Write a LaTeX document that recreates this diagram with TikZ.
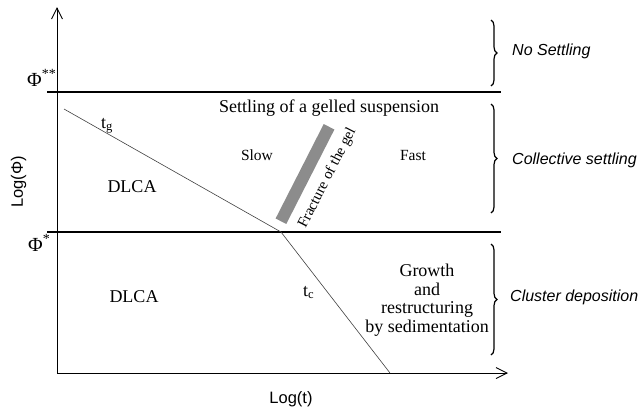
\documentclass[tikz,border=0pt]{standalone}
\usepackage{fontspec}
\setmainfont{Liberation Serif}
\setsansfont{Liberation Sans}
\usetikzlibrary{arrows.meta,decorations.pathreplacing}
\begin{document}
\begin{tikzpicture}[x=1pt,y=-1pt,
  axis/.style={line width=0.9pt,-{Straight Barb[length=11pt,width=11pt,line width=0.9pt]}},
  level/.style={line width=1.7pt},
  curve/.style={line width=0.6pt,black!75},
  big/.style={font=\fontsize{18}{20}\selectfont,inner sep=0pt},
  phi/.style={font=\fontsize{20}{22}\selectfont,inner sep=0pt,anchor=base west},
  mid/.style={font=\fontsize{15.5}{17}\selectfont,inner sep=0pt},
  axlabel/.style={font=\sffamily\fontsize{16.5}{18}\selectfont,inner sep=0pt},
  side/.style={font=\sffamily\itshape\fontsize{16}{18}\selectfont,anchor=base west,inner sep=0pt},
  bracket/.style={decorate,decoration={brace,amplitude=6pt},line width=1.2pt},
  fracbar/.style={fill=black!45,draw=none,minimum width=106pt,minimum height=12pt,inner sep=0pt},
]
\useasboundingbox (0,0) rectangle (642,408);

% axes
\coordinate (O) at (57,373);
\coordinate (ytip) at (57,7);
\coordinate (xtip) at (508,373);
\draw[axis] (O) -- (ytip);
\draw[axis] (O) -- (xtip);

% critical volume fractions
\coordinate (pssL) at (47,92);
\coordinate (pssR) at (501,92);
\coordinate (psL) at (47,232);
\coordinate (psR) at (501,232);
\draw[level] (pssL) -- (pssR);
\draw[level] (psL) -- (psR);
\node[phi] (phiss) at (27,86) {Φ\textsuperscript{**}};
\node[phi] (phis) at (28,251) {Φ\textsuperscript{*}};

% gelation and cluster times
\coordinate (tgstart) at (64,109);
\coordinate (knee) at (281,232);
\coordinate (tcend) at (390,373);
\draw[curve] (tgstart) -- (knee) -- (tcend);
\node[big,anchor=base west] (tg) at (101,128) {t\textsubscript{g}};
\node[big,anchor=base west] (tc) at (303,296) {t\textsubscript{c}};

% fracture of the gel
\node[fracbar,rotate=63] (bar) at (305,174) {};
\node[mid,font=\fontsize{15}{17}\selectfont,rotate=63,anchor=center] (frac) at (327.5,178) {Fracture of the gel};

% region labels
\node[big,anchor=base] (settle) at (329,112) {Settling of a gelled suspension};
\node[mid,anchor=base] (slow) at (257,160) {Slow};
\node[mid,anchor=base] (fast) at (413,160) {Fast};
\node[big,anchor=base] (dlcaA) at (132,192) {DLCA};
\node[big,anchor=base] (dlcaB) at (134,302) {DLCA};
\node[big,anchor=north,align=center,font=\fontsize{18}{18.5}\selectfont] (growth) at (427,264)
  {Growth\\and\\restructuring\\by sedimentation};

% axis labels
\node[axlabel,anchor=base] (logt) at (291,403) {Log(t)};
\node[axlabel,anchor=base,rotate=90] (logphi) at (23,182) {Log(Φ)};

% regimes
\draw[bracket] (491,20) -- (491,86);
\draw[bracket] (491,104) -- (491,213);
\draw[bracket] (491,244) -- (491,355);
\node[side] (nos) at (512,55) {No Settling};
\node[side] (coll) at (512,164) {Collective settling};
\node[side] (clus) at (510,301) {Cluster deposition};
\end{tikzpicture}
\end{document}
